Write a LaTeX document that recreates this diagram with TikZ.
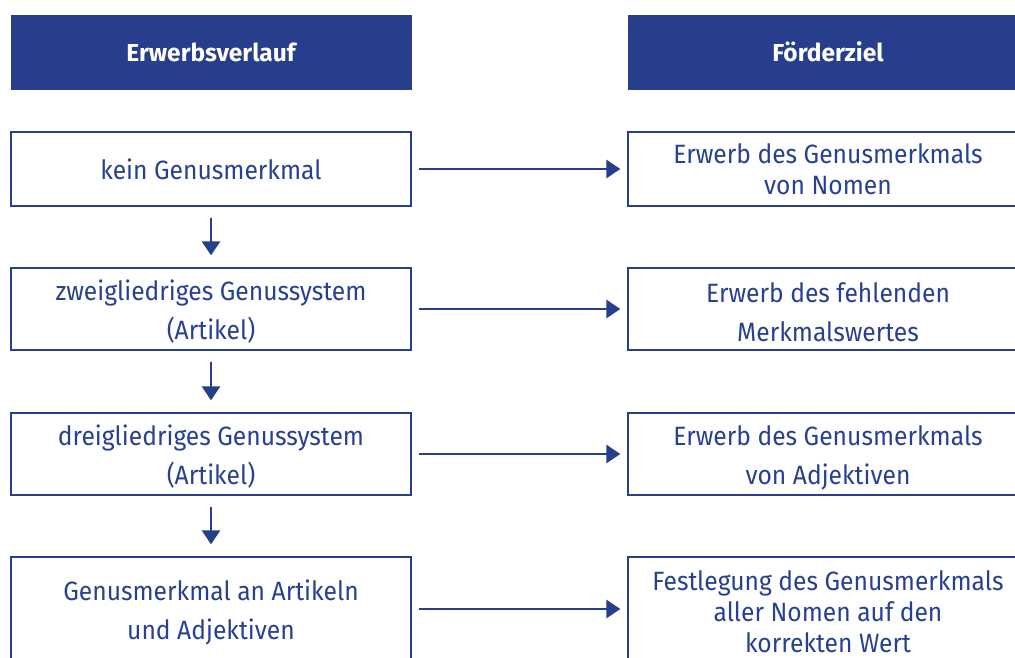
\documentclass[tikz,border=0pt]{standalone}
\usepackage{fontspec}
\setmainfont{Fira Sans}
\newfontfamily\bodyfont{Fira Sans}[FakeStretch=0.93]
\usetikzlibrary{arrows.meta}
\definecolor{dblue}{RGB}{38,62,140}
\definecolor{tblue}{RGB}{40,64,145}
\begin{document}
\begin{tikzpicture}[x=1pt,y=-1pt,
  hdr/.style={fill=dblue, draw=dblue, minimum width=400pt, minimum height=74pt, inner sep=0pt, text=white, font=\fontsize{24.5}{28}\selectfont\bfseries},
  box/.style={draw=dblue, line width=1.3pt, minimum width=400pt, inner sep=0pt, text=tblue, align=center},
  txt/.style={inner sep=0pt, text=tblue, align=center},
  sA/.style={font=\bodyfont\fontsize{26.5}{31}\selectfont},
  sB/.style={font=\bodyfont\fontsize{26.5}{39}\selectfont},
  arr/.style={draw=dblue, line width=2.8pt, -{Triangle[length=14pt,width=18pt]}}]
\useasboundingbox (0,0) rectangle (1015,657);
\clip (0,0) rectangle (1015,657);
% headers
\node[hdr] (h1) at (211,52) {Erwerbsverlauf};
\node[hdr] (h2) at (828,52) {Förderziel};
% left column
\node[box, sA, minimum height=74pt] (l1) at (211,169) {kein Genusmerkmal};
\node[box, minimum height=82pt] (l2) at (211,309) {};
\node[txt, sB, yshift=-3pt] (t2) at (l2.center) {zweigliedriges Genussystem\\(Artikel)};
\node[box, minimum height=82pt] (l3) at (211,454) {};
\node[txt, sB, yshift=-3pt] (t3) at (l3.center) {dreigliedriges Genussystem\\(Artikel)};
\node[box, sB, minimum height=110pt] (l4) at (211,612) {Genusmerkmal an Artikeln\\und Adjektiven};
% right column
\node[box, sA, minimum height=74pt] (r1) at (828,169) {Erwerb des Genusmerkmals\\von Nomen};
\node[box, minimum height=82pt] (r2) at (828,309) {};
\node[txt, sB, yshift=-3pt] (u2) at (r2.center) {Erwerb des fehlenden\\Merkmalswertes};
\node[box, minimum height=82pt] (r3) at (828,454) {};
\node[txt, sB, yshift=-4pt] (u3) at (r3.center) {Erwerb des Genusmerkmals\\von Adjektiven};
\node[box, sA, minimum height=110pt] (r4) at (828,612) {Festlegung des Genusmerkmals\\aller Nomen auf den\\korrekten Wert};
% horizontal arrows
\draw[arr, shorten <=7pt, shorten >=7pt] (l1.east) -- (r1.west);
\draw[arr, shorten <=7pt, shorten >=7pt] (l2.east) -- (r2.west);
\draw[arr, shorten <=7pt, shorten >=7pt] (l3.east) -- (r3.west);
\coordinate (a4) at (l4.east |- 0,609);
\coordinate (b4) at (r4.west |- 0,609);
\draw[arr, shorten <=7pt, shorten >=7pt] (a4) -- (b4);
% vertical arrows
\draw[arr, shorten <=11pt, shorten >=12pt] (l1.south) -- (l2.north);
\draw[arr, shorten <=11pt, shorten >=12pt] (l2.south) -- (l3.north);
\draw[arr, shorten <=11pt, shorten >=12pt] (l3.south) -- (l4.north);
\end{tikzpicture}
\end{document}
